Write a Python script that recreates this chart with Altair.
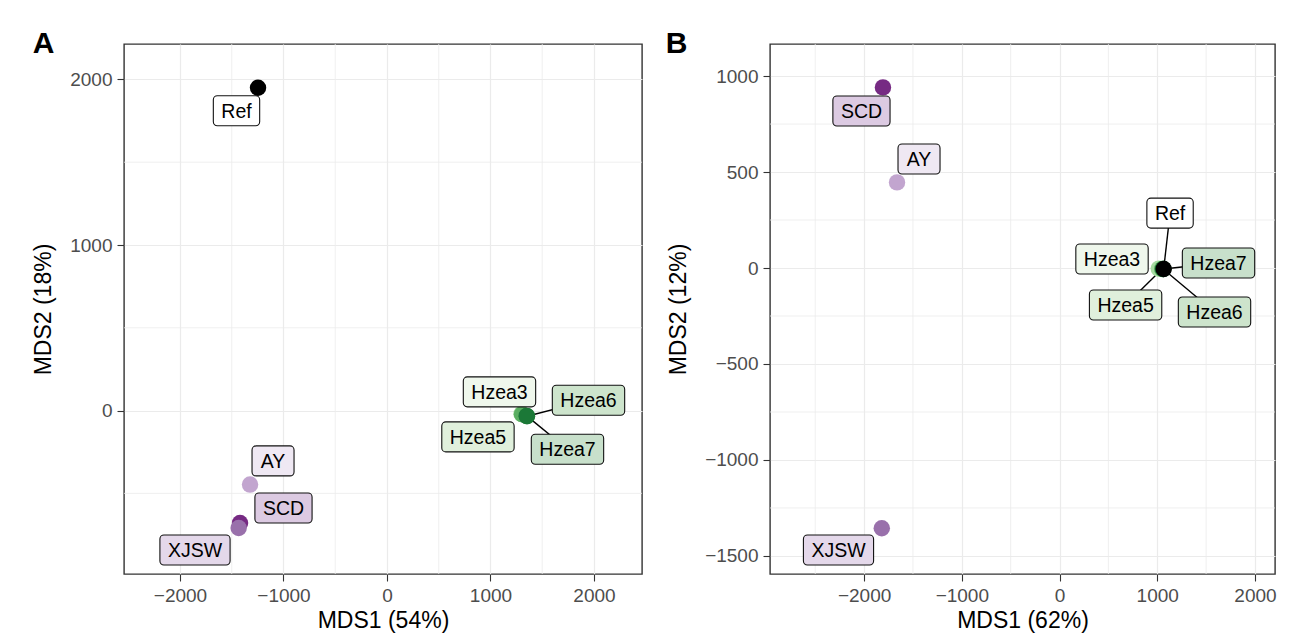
import altair as alt
import pandas as pd

# ---- data ----
samples = ["AY", "SCD", "XJSW", "Hzea3", "Hzea5", "Hzea7", "Hzea6", "Ref"]

# Panel A
mds1_a = [-1323, -1420, -1433, 1300, 1304, 1350, 1353, -1246]
mds2_a = [-447, -679, -709, -20, -22, -32, -34, 1950]
labx_a = [-1101, -1000, -1855, 1087, 879, 1744, 1947, -1454]
laby_a = [-304, -588, -842, 113, -159, -234, 62, 1811]
seg_a = [False, False, False, False, False, True, True, False]

# Panel B
mds1_b = [-1663, -1807, -1819, 1015, 1050, 1062, 1060, 1066]
mds2_b = [446, 941, -1356, -3, -5, -5, -5, -5]
labx_b = [-1438, -2027, -2262, 537, 676, 1627, 1586, 1131]
laby_b = [568, 818, -1469, 47, -193, 26, -229, 286]
seg_b = [False, False, False, False, True, True, True, True]

x_ticks = [-2000, -1000, 0, 1000, 2000]
y_ticks_a = [0, 1000, 2000]
y_ticks_b = [-1500, -1000, -500, 0, 500, 1000]
x_minor_a = [-1500, -500, 500, 1500]
y_minor_a = [-500, 500, 1500]
x_minor_b = [-2500, -1500, -500, 500, 1500]
y_minor_b = [-1250, -750, -250, 250, 750]

# ---- styles ----
point_colors = ["#c2a5cf", "#762a83", "#9970ab", "#a6dba0", "#5aae61", "#1b7837", "#1b7837", "#000000"]
fill_colors = ["#efe8f3", "#dccae2", "#e4d8ea", "#eff7ec", "#e0f0dc", "#c8e0cb", "#cde4cc", "#ffffff"]

FONT = "Liberation Sans"
LABEL_FS = 19.5
BOX_PAD = 8
BOX_H = 30

CHAR_W = {'H': 722, 'z': 500, 'e': 556, 'a': 556, '3': 556, '5': 556, '6': 556, '7': 556,
          'A': 667, 'Y': 667, 'R': 722, 'f': 278, 'S': 667, 'C': 722, 'D': 722,
          'X': 667, 'J': 500, 'W': 944}


def text_w(s):
    return sum(CHAR_W.get(c, 556) for c in s) * LABEL_FS / 1000.0


def panel(xs, ys, lxs, lys, segs, xdom, ydom, w, h, xminor, yminor, yticks,
          title, xtitle, ytitle, title_dx):
    xpp = (xdom[1] - xdom[0]) / w
    ypp = (ydom[1] - ydom[0]) / h
    pts = pd.DataFrame({"sample": samples, "x": xs, "y": ys})
    labs = pd.DataFrame({"sample": samples, "lx": lxs, "ly": lys})
    labs["bw"] = [text_w(s) + 2 * BOX_PAD for s in samples]
    labs["x0"] = labs["lx"] - labs["bw"] / 2 * xpp
    labs["x1"] = labs["lx"] + labs["bw"] / 2 * xpp
    labs["y0"] = labs["ly"] - BOX_H / 2 * ypp
    labs["y1"] = labs["ly"] + BOX_H / 2 * ypp
    sg = pd.DataFrame({"x": xs, "y": ys, "lx": lxs, "ly": lys, "s": segs})
    sg = sg[sg["s"]]

    xs_ = alt.Scale(domain=xdom, nice=False, zero=False)
    ys_ = alt.Scale(domain=ydom, nice=False, zero=False)
    xax = alt.Axis(values=x_ticks, format="d", title=xtitle, titlePadding=4)
    yax = alt.Axis(values=yticks, format="d", title=ytitle, titlePadding=14)
    color = alt.Color("sample:N", scale=alt.Scale(domain=samples, range=point_colors), legend=None)
    fill = alt.Fill("sample:N", scale=alt.Scale(domain=samples, range=fill_colors), legend=None)

    mx = alt.Chart(pd.DataFrame({"x": xminor})).mark_rule(color="#ebebeb", strokeWidth=0.8).encode(
        x=alt.X("x:Q", scale=xs_, axis=xax))
    my = alt.Chart(pd.DataFrame({"y": yminor})).mark_rule(color="#ebebeb", strokeWidth=0.8).encode(
        y=alt.Y("y:Q", scale=ys_, axis=yax))
    seg = alt.Chart(sg).mark_rule(color="black", strokeWidth=1.4).encode(
        x=alt.X("x:Q", scale=xs_, axis=xax), y=alt.Y("y:Q", scale=ys_, axis=yax),
        x2="lx:Q", y2="ly:Q")
    pt = alt.Chart(pts).mark_circle(size=270, opacity=1).encode(
        x=alt.X("x:Q", scale=xs_, axis=xax), y=alt.Y("y:Q", scale=ys_, axis=yax), color=color)
    box = alt.Chart(labs).mark_rect(cornerRadius=4, stroke="#111111", strokeWidth=1.1).encode(
        x=alt.X("x0:Q", scale=xs_, axis=xax), x2="x1:Q",
        y=alt.Y("y0:Q", scale=ys_, axis=yax), y2="y1:Q", fill=fill)
    txt = alt.Chart(labs).mark_text(font=FONT, fontSize=LABEL_FS, color="black",
                                    align="center", baseline="middle", dy=1).encode(
        x=alt.X("lx:Q", scale=xs_, axis=xax), y=alt.Y("ly:Q", scale=ys_, axis=yax),
        text="sample:N")
    return alt.layer(mx, my, seg, pt, box, txt).properties(
        width=w, height=h,
        title=alt.TitleParams(title, anchor="start", fontSize=30, fontWeight="bold",
                              font=FONT, color="black", baseline="alphabetic",
                              offset=-10, dx=title_dx, dy=29))


pa = panel(mds1_a, mds2_a, labx_a, laby_a, seg_a, [-2541, 2464], [-987, 2214], 518, 530,
           x_minor_a, y_minor_a, y_ticks_a, "A", "MDS1 (54%)", "MDS2 (18%)", 0)
pb = panel(mds1_b, mds2_b, labx_b, laby_b, seg_b, [-2963, 2205], [-1594, 1167], 505, 530,
           x_minor_b, y_minor_b, y_ticks_b, "B", "MDS1 (62%)", "MDS2 (12%)", -2)

chart = alt.hconcat(pa, pb, spacing=20).properties(
    padding={"left": 24, "top": 19, "right": 5, "bottom": 5},
    background="white"
).configure_view(
    stroke="#333333", strokeWidth=1.4
).configure_axis(
    labelFont=FONT, labelFontSize=19, labelColor="#4d4d4d", labelPadding=5,
    titleFont=FONT, titleFontSize=23, titleFontWeight="normal", titleColor="black",
    tickColor="#333333", tickSize=7, tickWidth=1.1, domain=False,
    gridColor="#ebebeb", gridWidth=1.2
)

chart.save("out.html", embed_options={"renderer": "svg", "actions": False})
